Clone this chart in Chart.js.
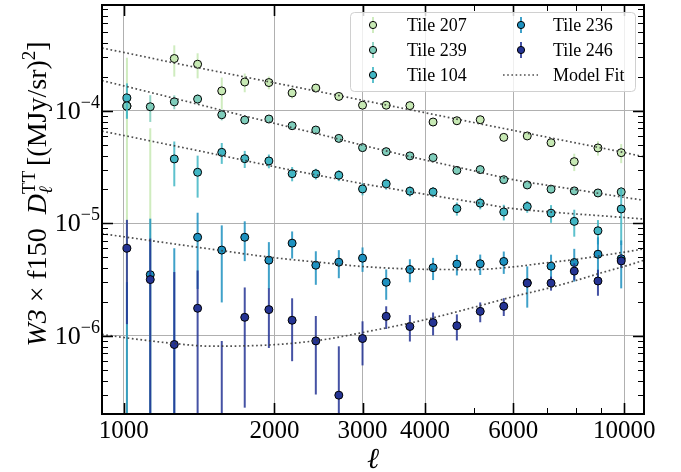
<!DOCTYPE html>
<html>
<head>
<meta charset="utf-8">
<script src="https://cdn.jsdelivr.net/npm/chart.js@4.4.0/dist/chart.umd.min.js"></script>
<style>
  html, body { margin: 0; padding: 0; background: #fff; }
  #wrap { width: 681px; height: 472px; }
</style>
</head>
<body>
<div id="wrap"><canvas id="chart"></canvas></div>
<script>
const SERIF = '"Liberation Serif", "DejaVu Serif", serif'

// multipole bin centres
const ell = [1015, 1130, 1262, 1405, 1570, 1745, 1950, 2170, 2420, 2690, 3000,
  3345, 3730, 4150, 4630, 5155, 5745, 6400, 7140, 7945, 8860, 9860]

// band powers (negative = below the axis, only the error bar shows)
const tile207 = [1.10e-4, -5e-5, 2.91e-4, 2.59e-4, 1.50e-4, 1.80e-4, 1.78e-4, 1.44e-4, 1.59e-4, 1.34e-4, 1.12e-4,
  1.12e-4, 1.11e-4, 7.94e-5, 8.15e-5, 8.32e-5, 5.80e-5, 5.97e-5, 5.20e-5, 3.53e-5, 4.67e-5, 4.24e-5]
const err207 = [1.85e-4, 1.2e-4, 9e-5, 6.5e-5, 4.7e-5, 3.4e-5, 2.3e-5, 1.6e-5, 9e-6, 8e-6, 6e-6,
  6e-6, 6e-6, 5e-6, 5e-6, 5e-6, 4e-6, 4e-6, 4e-6, 6.2e-6, 6.8e-6, 8.2e-6]

const tile239 = [1.10e-4, 1.085e-4, 1.20e-4, 1.27e-4, 9.21e-5, 8.27e-5, 8.44e-5, 7.36e-5, 6.74e-5, 5.68e-5, 4.70e-5,
  4.33e-5, 3.97e-5, 3.83e-5, 2.95e-5, 3.00e-5, 2.44e-5, 2.19e-5, 2.01e-5, 1.94e-5, 1.86e-5, 1.90e-5]
const err239 = [2.5e-5, 2.9e-5, 1.7e-5, 1.3e-5, 1e-5, 6e-6, 5e-6, 4e-6, 3e-6, 3e-6, 2.5e-6,
  2e-6, 2e-6, 1.8e-6, 1.5e-6, 1.5e-6, 1.3e-6, 1.2e-6, 1.2e-6, 1.2e-6, 1.3e-6, 2e-6]

const tile104 = [1.30e-4, null, 3.73e-5, 2.84e-5, 4.27e-5, 3.75e-5, 3.58e-5, 2.76e-5, 2.75e-5, 2.67e-5, 2.02e-5,
  2.24e-5, 1.93e-5, 1.90e-5, 1.35e-5, 1.51e-5, 1.26e-5, 1.41e-5, 1.23e-5, 1.04e-5, 8.58e-6, 1.34e-5]
const err104 = [4.5e-5, null, 1.6e-5, 1.15e-5, 9e-6, 6.5e-6, 5e-6, 4e-6, 3e-6, 3e-6, 2.5e-6,
  2.5e-6, 2e-6, 2e-6, 1.8e-6, 1.8e-6, 2e-6, 1.7e-6, 2.2e-6, 2.8e-6, 2.1e-6, 7e-6]

const tile236 = [-2e-6, 3.49e-6, -3e-6, 7.51e-6, 5.78e-6, 7.51e-6, 4.70e-6, 6.66e-6, 4.24e-6, 4.51e-6, 4.90e-6,
  2.99e-6, 3.89e-6, 4.03e-6, 4.34e-6, 4.37e-6, 4.58e-6, 2.96e-6, 4.16e-6, 4.48e-6, 5.31e-6, 4.84e-6]
const err236 = [5e-6, 7.5e-6, 9e-6, 4.9e-6, 3.8e-6, 2.9e-6, 2.1e-6, 1.8e-6, 1.4e-6, 1.26e-6, 1.2e-6,
  9e-7, 9e-7, 9e-7, 9e-7, 9e-7, 1.03e-6, 1.18e-6, 1.1e-6, 1.45e-6, 2.2e-6, 2.2e-6]

const tile246 = [6.0e-6, 3.16e-6, 8.37e-7, 1.757e-6, -1e-6, 1.46e-6, 1.71e-6, 1.375e-6, 9.01e-7, 2.97e-7, 9.46e-7,
  1.49e-6, 1.21e-6, 1.31e-6, 1.23e-6, 1.65e-6, 1.83e-6, 2.94e-6, 2.94e-6, 3.76e-6, 3.07e-6, 4.63e-6]
const err246 = [4.73e-6, 4.16e-6, 2.85e-6, 2.05e-6, 1.9e-6, 1.23e-6, 9.3e-7, 7.8e-7, 6e-7, 5.1e-7, 4e-7,
  3.4e-7, 3.2e-7, 3e-7, 3.2e-7, 3.3e-7, 3.3e-7, 2.5e-7, 4.2e-7, 6.5e-7, 8e-7, 6e-7]

// model fit curves
const fitEll = [905, 1000, 1250, 1500, 2000, 2500, 3000, 4000, 5000, 6000, 7000, 8000, 9000, 10000, 10950]
const fit207 = [3.60e-4, 3.30e-4, 2.68e-4, 2.28e-4, 1.77e-4, 1.456e-4, 1.238e-4, 9.60e-5, 7.86e-5, 6.69e-5, 5.83e-5, 5.18e-5, 4.67e-5, 4.25e-5, 3.90e-5]
const fit239 = [1.852e-4, 1.665e-4, 1.303e-4, 1.063e-4, 7.73e-5, 6.07e-5, 4.94e-5, 3.65e-5, 2.93e-5, 2.44e-5, 2.18e-5, 1.99e-5, 1.83e-5, 1.70e-5, 1.60e-5]
const fit104 = [6.58e-5, 6.03e-5, 4.92e-5, 4.17e-5, 3.18e-5, 2.62e-5, 2.25e-5, 1.81e-5, 1.54e-5, 1.35e-5, 1.267e-5, 1.21e-5, 1.166e-5, 1.125e-5, 1.09e-5]
const fit236 = [8.09e-6, 7.59e-6, 6.59e-6, 5.88e-6, 4.94e-6, 4.47e-6, 4.13e-6, 3.90e-6, 3.88e-6, 4.10e-6, 4.46e-6, 4.78e-6, 5.16e-6, 5.54e-6, 5.92e-6]
const fit246 = [1.029e-6, 9.66e-7, 8.58e-7, 8.09e-7, 8.34e-7, 9.23e-7, 1.07e-6, 1.39e-6, 1.79e-6, 2.23e-6, 2.63e-6, 3.10e-6, 3.63e-6, 4.14e-6, 4.69e-6]

// axes
const xTicks = [1000, 2000, 3000, 4000, 5000, 6000, 7000, 8000, 9000, 10000]
const xLabeled = [1000, 2000, 3000, 4000, 6000, 10000]
const xLabelText = ["1000", "2000", "3000", "4000", "6000", "10000"]
const yMajor = [1e-6, 1e-5, 1e-4]
const yMajorExp = ["\u22126", "\u22125", "\u22124"]

const tiles = [
  { label: "Tile 207", color: "#c7e9b4", values: tile207, errors: err207 },
  { label: "Tile 239", color: "#7fcdbb", values: tile239, errors: err239 },
  { label: "Tile 104", color: "#41b6c4", values: tile104, errors: err104 },
  { label: "Tile 236", color: "#1d91c0", values: tile236, errors: err236 },
  { label: "Tile 246", color: "#253494", values: tile246, errors: err246 },
]
const fits = [fit207, fit239, fit104, fit236, fit246]
const FIT_COLOR = "rgba(60,60,60,0.9)"

function alpha(hex, a) {
  const n = parseInt(hex.slice(1), 16)
  return `rgba(${n >> 16},${(n >> 8) & 255},${n & 255},${a})`
}

const yTicks = []
for (let e = -7; e <= -4; e++) {
  for (let m = 1; m <= 9; m++) yTicks.push(m * Math.pow(10, e))
}

// error bars, drawn just before each tile's markers
const errorBars = {
  id: "errorBars",
  beforeDatasetDraw(chart, args) {
    const ds = chart.data.datasets[args.index]
    if (!ds.errors) return
    const { ctx, chartArea: a, scales: { x, y } } = chart
    ctx.save()
    ctx.beginPath()
    ctx.rect(a.left, a.top, a.right - a.left, a.bottom - a.top)
    ctx.clip()
    ctx.strokeStyle = alpha(ds.baseColor, 0.85)
    ctx.lineWidth = 2
    ds.values.forEach((v, i) => {
      const e = ds.errors[i]
      if (v == null || e == null) return
      const px = x.getPixelForValue(ell[i])
      const hi = v + e
      const lo = v - e
      if (hi <= 0) return
      const top = y.getPixelForValue(hi)
      const bottom = lo > 0 ? y.getPixelForValue(lo) : a.bottom + 2
      ctx.beginPath()
      ctx.moveTo(px, top)
      ctx.lineTo(px, bottom)
      ctx.stroke()
    })
    ctx.restore()
  },
}

function drawRuns(ctx, runs, cx, baseline) {
  let total = 0
  runs.forEach((r) => {
    ctx.font = r.font
    r.w = ctx.measureText(r.text).width
    if (!r.noAdvance) total += r.w
  })
  let xPos = cx - total / 2
  runs.forEach((r) => {
    ctx.font = r.font
    ctx.fillText(r.text, xPos, baseline + (r.dy || 0))
    if (!r.noAdvance) xPos += r.w
  })
}

// frame, inward ticks, labels, legend
const decorations = {
  id: "decorations",
  afterDraw(chart) {
    const { ctx, chartArea: a, scales: { x, y } } = chart
    ctx.save()
    ctx.strokeStyle = "#000"
    ctx.lineCap = "butt"

    xTicks.forEach((v) => {
      const px = Math.round(x.getPixelForValue(v)) + 0.5
      const major = xLabeled.includes(v)
      const len = major ? 11 : 6
      ctx.lineWidth = major ? 1.6 : 1
      ctx.beginPath()
      ctx.moveTo(px, a.bottom)
      ctx.lineTo(px, a.bottom - len)
      ctx.moveTo(px, a.top)
      ctx.lineTo(px, a.top + len)
      ctx.stroke()
    })
    yTicks.forEach((v) => {
      if (v < y.min || v > y.max) return
      const py = Math.round(y.getPixelForValue(v)) + 0.5
      const major = yMajor.includes(v)
      const len = major ? 11 : 6
      ctx.lineWidth = major ? 1.6 : 1
      ctx.beginPath()
      ctx.moveTo(a.left, py)
      ctx.lineTo(a.left + len, py)
      ctx.moveTo(a.right, py)
      ctx.lineTo(a.right - len, py)
      ctx.stroke()
    })

    ctx.lineWidth = 2
    ctx.strokeRect(a.left, a.top, a.right - a.left, a.bottom - a.top)

    // tick labels
    ctx.fillStyle = "#000"
    ctx.textAlign = "center"
    ctx.textBaseline = "alphabetic"
    ctx.font = `25px ${SERIF}`
    xLabeled.forEach((v, i) => {
      ctx.fillText(xLabelText[i], x.getPixelForValue(v), 438)
    })
    ctx.textAlign = "left"
    yMajor.forEach((v, i) => {
      const py = y.getPixelForValue(v)
      ctx.font = `18px ${SERIF}`
      const sw = ctx.measureText(yMajorExp[i]).width
      ctx.font = `26px ${SERIF}`
      const bw = ctx.measureText("10").width
      const right = a.left - 2
      ctx.fillText("10", right - sw - bw, py + 8)
      ctx.font = `18px ${SERIF}`
      ctx.fillText(yMajorExp[i], right - sw, py - 3)
    })

    // x label
    ctx.textAlign = "center"
    ctx.font = `italic 29px ${SERIF}`
    ctx.fillText("\u2113", (a.left + a.right) / 2, 468)

    // y label
    ctx.save()
    ctx.translate(46, 194)
    ctx.rotate(-Math.PI / 2)
    ctx.textAlign = "left"
    const big = 28
    const small = 19
    drawRuns(ctx, [
      { text: "W3", font: `italic ${big}px ${SERIF}` },
      { text: " \u00d7 f150  ", font: `${big}px ${SERIF}` },
      { text: "D", font: `italic ${big}px ${SERIF}` },
      { text: "\u2113", font: `italic ${small}px ${SERIF}`, dy: 6, noAdvance: true },
      { text: "TT ", font: `${small}px ${SERIF}`, dy: -11 },
      { text: "[(MJy/sr)", font: `${big}px ${SERIF}` },
      { text: "2", font: `${small}px ${SERIF}`, dy: -11 },
      { text: "]", font: `${big}px ${SERIF}` },
    ], 0, 0)
    ctx.restore()

    // legend
    const box = { x: 350.5, y: 12.5, w: 285, h: 79 }
    ctx.beginPath()
    ctx.roundRect(box.x, box.y, box.w, box.h, 4)
    ctx.fillStyle = "rgba(255,255,255,0.8)"
    ctx.fill()
    ctx.strokeStyle = "#d0d0d0"
    ctx.lineWidth = 1
    ctx.stroke()

    const rows = [25, 50, 75]
    const entries = tiles.map((t) => ({ label: t.label, color: t.color }))
    entries.push({ label: "Model Fit", fit: true })
    ctx.font = `18px ${SERIF}`
    ctx.textBaseline = "middle"
    ctx.textAlign = "left"
    entries.forEach((en, i) => {
      const col = i < 3 ? 0 : 1
      const ry = rows[i % 3]
      const mx = col === 0 ? 373 : 521
      const tx = col === 0 ? 407 : 553
      if (en.fit) {
        ctx.strokeStyle = FIT_COLOR
        ctx.lineWidth = 1.6
        ctx.setLineDash([1.6, 2.6])
        ctx.beginPath()
        ctx.moveTo(503, ry)
        ctx.lineTo(538, ry)
        ctx.stroke()
        ctx.setLineDash([])
      } else {
        ctx.strokeStyle = alpha(en.color, 0.85)
        ctx.lineWidth = 2
        ctx.beginPath()
        ctx.moveTo(mx, ry - 8)
        ctx.lineTo(mx, ry + 8)
        ctx.stroke()
        ctx.beginPath()
        ctx.arc(mx, ry, 3.6, 0, Math.PI * 2)
        ctx.fillStyle = en.color
        ctx.fill()
        ctx.strokeStyle = "#000"
        ctx.lineWidth = 1
        ctx.stroke()
      }
      ctx.fillStyle = "#000"
      ctx.fillText(en.label, tx, ry + 1)
    })
    ctx.restore()
  },
}

const datasets = []
tiles.forEach((t, k) => {
  datasets.push({
    label: t.label,
    data: ell.map((l, i) => ({ x: l, y: t.values[i] != null && t.values[i] > 0 ? t.values[i] : null })),
    values: t.values,
    errors: t.errors,
    baseColor: t.color,
    showLine: false,
    pointRadius: 4,
    pointBackgroundColor: t.color,
    pointBorderColor: "#000",
    pointBorderWidth: 1,
    order: 10 - k,
  })
})
fits.forEach((f) => {
  datasets.push({
    label: "Model Fit",
    data: fitEll.map((l, i) => ({ x: l, y: f[i] })),
    showLine: true,
    pointRadius: 0,
    borderColor: FIT_COLOR,
    borderWidth: 1.7,
    borderDash: [1.7, 2.6],
    cubicInterpolationMode: "monotone",
    order: 0,
  })
})

const config = {
  type: "scatter",
  data: { datasets },
  options: {
    responsive: true,
    maintainAspectRatio: false,
    devicePixelRatio: 1,
    animation: false,
    layout: { padding: { left: 102, right: 37, top: 4, bottom: 58 } },
    scales: {
      x: {
        type: "logarithmic",
        min: 905,
        max: 10950,
        afterBuildTicks: (s) => { s.ticks = xTicks.map((v) => ({ value: v })) },
        ticks: { display: false },
        border: { display: false },
        grid: {
          drawTicks: false,
          lineWidth: 1,
          color: (c) => (c.tick && xLabeled.includes(c.tick.value) ? "#b0b0b0" : "rgba(0,0,0,0)"),
        },
      },
      y: {
        type: "logarithmic",
        min: 2.02e-7,
        max: 8.7e-4,
        afterBuildTicks: (s) => { s.ticks = yTicks.filter((v) => v >= 2.02e-7 && v <= 8.7e-4).map((v) => ({ value: v })) },
        ticks: { display: false },
        border: { display: false },
        grid: {
          drawTicks: false,
          lineWidth: 1,
          color: (c) => (c.tick && yMajor.includes(c.tick.value) ? "#b0b0b0" : "rgba(0,0,0,0)"),
        },
      },
    },
    plugins: {
      legend: { display: false },
      tooltip: { enabled: false },
    },
  },
  plugins: [errorBars, decorations],
}

new Chart(document.getElementById("chart"), config)
</script>
</body>
</html>
